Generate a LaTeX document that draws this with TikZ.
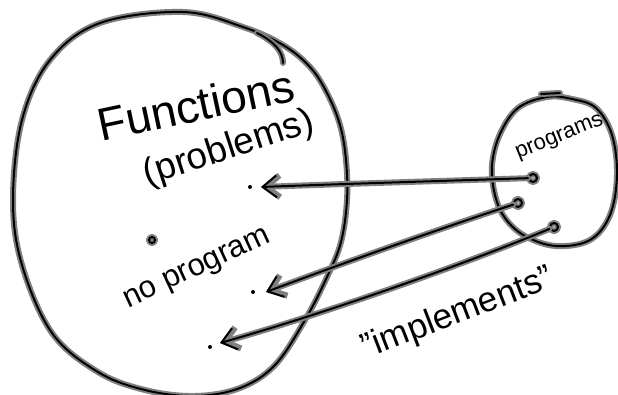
\documentclass[tikz,border=0pt]{standalone}
\usepackage{fontspec}
\setmainfont{Liberation Sans}
\usetikzlibrary{arrows.meta}
\definecolor{halogray}{RGB}{128,128,128}
\tikzset{
  halo/.style={preaction={draw=halogray, line width=6pt, line cap=round, line join=round}},
  ink/.style={draw=black, line width=2pt, line cap=round, line join=round, halo},
  arr/.style={ink, -{Straight Barb[length=14pt,width=22pt]}},
  srcdot/.style={circle, ink, inner sep=0pt, minimum size=8pt},
  enddot/.style={circle, fill=black, inner sep=0pt, minimum size=4pt},
  label/.style={inner sep=0pt, text=black},
}
\begin{document}
\begin{tikzpicture}[x=1pt,y=-1pt]
\useasboundingbox (0,0) rectangle (618,394);
\fill[white] (0,0) rectangle (618,394);
% big set: functions
\draw[ink] plot[smooth cycle, tension=0.6] coordinates {
  (183,12) (243,27) (283,45) (310,67) (327,93) (340,125) (346,160) (347,200)
  (341,242) (327,277) (305,320) (275,365) (240,388) (195,396) (145,390)
  (98,372) (52,333) (22,265) (13,200) (22,120) (50,60) (100,23)};
\draw[ink] (257,33) .. controls (275,42) and (283,52) .. (283,63);
% small set: programs
\draw[ink] plot[smooth cycle, tension=0.6] coordinates {
  (547,97) (518,108) (500,134) (492,165) (495,195) (505,218) (525,236)
  (556,246) (590,240) (610,215) (617,175) (612,135) (596,108) (572,99)};
\draw[ink] (541,94) -- (560,93);
% texts
\node[label, rotate=12, font=\fontsize{46}{46}\selectfont] (fun) at (196,105) {Functions};
\node[label, rotate=18, font=\fontsize{37}{37}\selectfont] (prob) at (229,149) {(problems)};
\node[label, rotate=25, font=\fontsize{31}{31}\selectfont] (nop) at (198,270) {no program};
\node[label, rotate=22, font=\fontsize{22}{22}\selectfont] (progs) at (560,138) {programs};
\node[label, rotate=21, font=\fontsize{35}{35}\selectfont] (impl) at (458,314) {"implements"};
% the function with no program
\node[circle, ink, inner sep=0pt, minimum size=6pt] (lone) at (152,240) {};
% programs
\node[srcdot] (p1) at (533,178) {};
\node[srcdot] (p2) at (518,203) {};
\node[srcdot] (p3) at (554,227) {};
% functions they implement
\node[enddot] (f1) at (250,187) {};
\node[enddot] (f2) at (253,292) {};
\node[enddot] (f3) at (210,347) {};
\coordinate (t1) at (261,187);
\coordinate (t2) at (266,292);
\coordinate (t3) at (220,343);
\draw[arr] (p1) .. controls (440,181) and (340,184) .. (t1);
\draw[arr] (p2) .. controls (430,232) and (330,268) .. (t2);
\draw[arr] (p3) .. controls (470,262) and (330,312) .. (t3);
\end{tikzpicture}
\end{document}
